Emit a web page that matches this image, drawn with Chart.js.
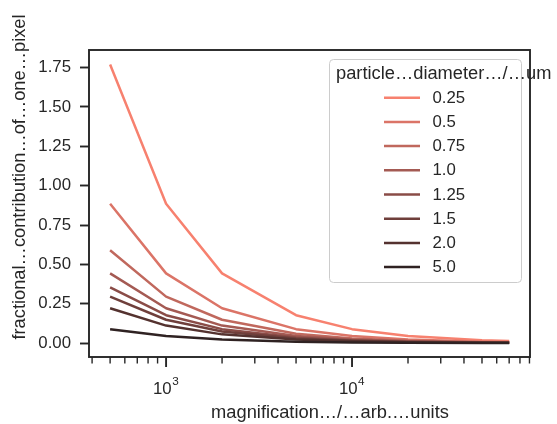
<!DOCTYPE html>
<html>
<head>
<meta charset="utf-8">
<script src="https://cdn.jsdelivr.net/npm/chart.js@4/dist/chart.umd.min.js"></script>
<style>
  html, body { margin: 0; padding: 0; background: #ffffff; }
  #wrap { width: 557px; height: 424px; position: relative; }
</style>
</head>
<body>
<div id="wrap"><canvas id="c" width="557" height="424"></canvas></div>
<script>
// Magnification steps (x values)
const magnifications = [500, 1000, 2000, 5000, 10000, 20000, 50000, 70000];

// Particle diameters (legend entries)
const diameterLabels = ['0.25', '0.5', '0.75', '1.0', '1.25', '1.5', '2.0', '5.0'];

// Fractional contribution of one pixel, one list per diameter
const frac_d025 = [1.77, 0.885, 0.443, 0.177, 0.0885, 0.0443, 0.0177, 0.0126];
const frac_d050 = [0.885, 0.443, 0.221, 0.0885, 0.0443, 0.0221, 0.0089, 0.0063];
const frac_d075 = [0.59, 0.295, 0.148, 0.059, 0.0295, 0.0148, 0.0059, 0.0042];
const frac_d100 = [0.443, 0.221, 0.111, 0.0443, 0.0221, 0.0111, 0.0044, 0.0032];
const frac_d125 = [0.354, 0.177, 0.0885, 0.0354, 0.0177, 0.0089, 0.0035, 0.0025];
const frac_d150 = [0.295, 0.148, 0.0738, 0.0295, 0.0148, 0.0074, 0.003, 0.0021];
const frac_d200 = [0.221, 0.111, 0.0553, 0.0221, 0.0111, 0.0055, 0.0022, 0.0016];
const frac_d500 = [0.0885, 0.0443, 0.0221, 0.0089, 0.0044, 0.0022, 0.0009, 0.0006];

// Axis tick labels
const yTickValues = [0.00, 0.25, 0.50, 0.75, 1.00, 1.25, 1.50, 1.75];
const xDecadeTicks = [1000, 10000];

// Axis titles
const xTitle = 'magnification…/…arb.…units';
const yTitle = 'fractional…contribution…of…one…pixel';
const legendTitle = 'particle…diameter…/…um';

const seriesValues = [frac_d025, frac_d050, frac_d075, frac_d100, frac_d125, frac_d150, frac_d200, frac_d500];
const lineColors = ['#f7816f', '#db7467', '#c0685d', '#a45a53', '#8a4c47', '#6f3f3b', '#54322f', '#2f2222'];

const INK = '#262626';
const FONT = '"Liberation Sans", Arial, sans-serif';
const TICK_PX = 16.8;
const LABEL_PX = 18.3;
const LINE_W = 2.5;

const datasets = seriesValues.map((vals, i) => ({
  label: diameterLabels[i],
  data: magnifications.map((m, j) => ({ x: m, y: vals[j] })),
  borderColor: lineColors[i],
  backgroundColor: lineColors[i],
  borderWidth: LINE_W,
  pointRadius: 0,
  tension: 0,
  fill: false,
  borderJoinStyle: 'round',
  order: seriesValues.length - i
}));

// Frame, x ticks, axis titles and legend drawn on the canvas
const decorations = {
  id: 'decorations',
  afterDatasetsDraw(chart) {
    const ctx = chart.ctx;
    const a = chart.chartArea;
    const xs = chart.scales.x;
    ctx.save();

    // x tick marks (decade major, in-between minor)
    ctx.strokeStyle = INK;
    for (let e = 2; e <= 4; e++) {
      for (let m = 1; m <= 9; m++) {
        const v = m * Math.pow(10, e);
        if (v < xs.min || v > xs.max) continue;
        const px = xs.getPixelForValue(v);
        const major = m === 1;
        ctx.lineWidth = major ? 1.9 : 1.4;
        ctx.beginPath();
        ctx.moveTo(px, a.bottom);
        ctx.lineTo(px, a.bottom + (major ? 10 : 6.5));
        ctx.stroke();
      }
    }

    // x tick labels: 10 with raised exponent
    ctx.fillStyle = INK;
    ctx.textBaseline = 'middle';
    ctx.textAlign = 'left';
    xDecadeTicks.forEach(v => {
      const px = xs.getPixelForValue(v);
      const exp = String(Math.round(Math.log10(v)));
      ctx.font = TICK_PX + 'px ' + FONT;
      const wb = ctx.measureText('10').width;
      ctx.font = (TICK_PX * 0.7) + 'px ' + FONT;
      const we = ctx.measureText(exp).width;
      const x0 = px - (wb + we) / 2 - 0.5;
      ctx.font = TICK_PX + 'px ' + FONT;
      ctx.fillText('10', x0, 389.5);
      ctx.font = (TICK_PX * 0.7) + 'px ' + FONT;
      ctx.fillText(exp, x0 + wb + 0.5, 381.5);
    });

    // axis titles
    ctx.font = LABEL_PX + 'px ' + FONT;
    ctx.textAlign = 'center';
    ctx.fillText(xTitle, 330, 413);
    ctx.save();
    ctx.translate(20, 177);
    ctx.rotate(-Math.PI / 2);
    ctx.fillText(yTitle, 0, 0);
    ctx.restore();

    // axes frame
    ctx.lineWidth = 1.9;
    ctx.strokeStyle = INK;
    ctx.strokeRect(a.left, a.top, a.right - a.left, a.bottom - a.top);
    ctx.restore();
  },
  afterDraw(chart) {
    const ctx = chart.ctx;
    ctx.save();
    // legend box
    const bx = 329.5, by = 59.5, bw = 192, bh = 223, r = 4;
    ctx.beginPath();
    ctx.moveTo(bx + r, by);
    ctx.arcTo(bx + bw, by, bx + bw, by + bh, r);
    ctx.arcTo(bx + bw, by + bh, bx, by + bh, r);
    ctx.arcTo(bx, by + bh, bx, by, r);
    ctx.arcTo(bx, by, bx + bw, by, r);
    ctx.closePath();
    ctx.fillStyle = 'rgba(255,255,255,0.8)';
    ctx.fill();
    ctx.lineWidth = 1;
    ctx.strokeStyle = '#cccccc';
    ctx.stroke();

    ctx.fillStyle = INK;
    ctx.textBaseline = 'middle';
    ctx.textAlign = 'left';
    ctx.font = LABEL_PX + 'px ' + FONT;
    ctx.fillText(legendTitle, 336, 73.5);

    ctx.font = TICK_PX + 'px ' + FONT;
    chart.data.datasets.forEach((ds, i) => {
      const y = 97.7 + i * 24.2;
      ctx.strokeStyle = ds.borderColor;
      ctx.lineWidth = LINE_W;
      ctx.beginPath();
      ctx.moveTo(384, y);
      ctx.lineTo(420, y);
      ctx.stroke();
      ctx.fillStyle = INK;
      ctx.fillText(ds.label, 432.5, y + 0.5);
    });
    ctx.restore();
  }
};

new Chart(document.getElementById('c'), {
  type: 'line',
  data: { datasets },
  plugins: [decorations],
  options: {
    responsive: false,
    animation: false,
    devicePixelRatio: 1,
    layout: { padding: { left: 0, top: 50, right: 27, bottom: 0 } },
    plugins: { legend: { display: false }, tooltip: { enabled: false } },
    scales: {
      x: {
        type: 'logarithmic',
        min: 385,
        max: 90600,
        grid: { display: false },
        border: { display: false },
        ticks: { display: false },
        afterFit(s) { s.height = 67; }
      },
      y: {
        type: 'linear',
        min: -0.0885,
        max: 1.862,
        afterBuildTicks(s) { s.ticks = yTickValues.map(v => ({ value: v })); },
        grid: {
          drawOnChartArea: false,
          drawTicks: true,
          tickLength: 9,
          tickWidth: 1.9,
          tickColor: INK
        },
        border: { display: false },
        ticks: {
          color: INK,
          padding: 9,
          font: { family: FONT, size: TICK_PX },
          callback: v => Number(v).toFixed(2)
        },
        afterFit(s) { s.width = 89; }
      }
    }
  }
});
</script>
</body>
</html>
